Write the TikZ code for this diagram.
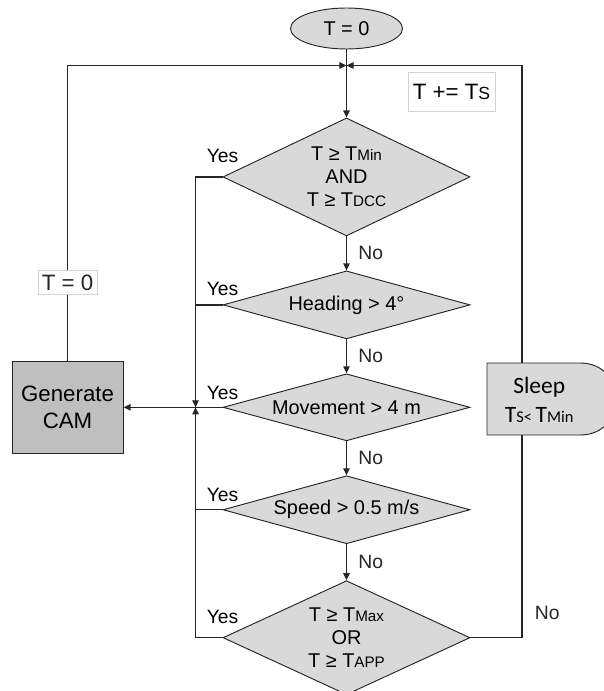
\documentclass[tikz,border=0pt]{standalone}
\usepackage{fontspec}
\setmainfont{Liberation Sans}
\newfontfamily\calfont{Carlito}
\usetikzlibrary{shapes.geometric,arrows.meta,positioning}
\definecolor{lineGray}{RGB}{38,38,38}
\definecolor{shapeGray}{RGB}{217,217,217}
\definecolor{camGray}{RGB}{191,191,191}
\definecolor{noteGray}{RGB}{210,210,210}
\newcommand{\sbs}[2][13]{{\fontsize{#1}{#1}\selectfont #2}}

\begin{document}
\begin{tikzpicture}[
  dec/.style={diamond, aspect=2.3, draw=lineGray, fill=shapeGray,
              inner sep=0pt, minimum width=7.41cm, minimum height=#1,
              font=\fontsize{17}{19.5}\selectfont, align=center,
              line width=0.8pt},
  decw/.style={dec=#1, aspect=4.2},
  term/.style={ellipse, draw=lineGray, fill=shapeGray,
               minimum width=3.36cm, minimum height=1.23cm,
               font=\fontsize{17}{20}\selectfont, line width=0.8pt},
  cam/.style={rectangle, draw=lineGray, fill=camGray,
              minimum width=3.33cm, minimum height=2.76cm, align=center,
              font=\fontsize{19}{23}\selectfont, line width=0.8pt},
  note/.style={rectangle, draw=noteGray, fill=white, line width=0.6pt,
               font=\fontsize{19}{22}\selectfont},
  sleeptxt/.style={inner sep=0pt, minimum width=3.12cm,
                   minimum height=2.2cm, align=center,
                   font=\calfont\fontsize{20}{24.5}\selectfont},
  sleepline/.style={draw=lineGray, fill=shapeGray, line width=0.8pt},
  lbl/.style={inner sep=1pt, font=\fontsize{16.5}{18}\selectfont},
  arr/.style={-{Triangle[length=6pt,width=5.5pt]}, line width=1.1pt,
              lineGray},
  link/.style={line width=1.1pt, lineGray},
  node distance=1.02cm
]
  \useasboundingbox (0,0) rectangle (18.09,-20.73);

  % main column
  \node[term] (start) at (10.395,-0.855) {T = 0};
  \node[dec=3.54cm, below=2.04cm of start] (d1)
    {T \char"2265{} T\sbs{Min}\\AND\\T \char"2265{} T\sbs{DCC}};
  \node[decw=2.04cm, below=of d1] (d2) {Heading > 4°};
  \node[decw=2.01cm, below=of d2] (d3) {Movement > 4 m};
  \node[decw=2.04cm, below=of d3] (d4) {Speed > 0.5 m/s};
  \node[dec=3.42cm, below=1.08cm of d4] (d5)
    {T \char"2265{} T\sbs{Max}\\OR\\T \char"2265{} T\sbs{APP}};

  \node[cam, left=2.97cm of d3] (cam) {Generate\\CAM};
  \node[note, minimum width=2.61cm, minimum height=1.17cm] (incr)
    at (13.545,-2.745) {T += T\sbs[15]{S}};

  \coordinate[below=0.48cm of start.south] (jt);
  \coordinate[left=0.81cm of d3.west] (jl);
  \coordinate (rx) at (15.66,0);

  % No branches
  \draw[arr] (start) -- (d1);
  \draw[arr] (d1) -- node[lbl, right=0.3cm] {No} (d2);
  \draw[arr] (d2) -- node[lbl, right=0.3cm] {No} (d3);
  \draw[arr] (d3) -- node[lbl, right=0.3cm] {No} (d4);
  \draw[arr] (d4) -- node[lbl, right=0.3cm] {No} (d5);

  % Yes branches
  \foreach \d/\h in {d1/0.38cm,d2/0.22cm,d3/0.18cm,d4/0.2cm,d5/0.38cm}
    \node[lbl, above=\h of \d.west] (yes\d) {Yes};
  \draw[arr] (d1.west) -- (d1.west -| jl) -- (jl);
  \draw[arr] (d5.west) -- (d5.west -| jl) -- (jl);
  \draw[link] (d2.west) -- (d2.west -| jl);
  \draw[link] (d4.west) -- (d4.west -| jl);
  \draw[arr] (d3.west) -- (cam);

  % loops back to the top
  \draw[arr] (cam) -- node[note, pos=0.265] (reset) {T = 0} (cam |- jt) -- (jt);
  \draw[arr] (d5.east) -- (d5.east -| rx)
    node[lbl, above right=0.5cm and 0.33cm] (nolast) {No}
    -- (rx |- jt) -- (jt);

  % sleep
  \coordinate (slp) at (14.61,-10.89);
  \filldraw[sleepline] (slp) -- ++(2.79,0)
    .. controls +(1.44,0) and +(1.44,0) .. ++(0,-2.16)
    -- ++(-2.79,0) -- cycle;
  \node[sleeptxt, anchor=north west] (sleep) at (slp)
    {Sleep\\T\sbs[14]{S< }T\sbs[14]{Min}};
\end{tikzpicture}
\end{document}
